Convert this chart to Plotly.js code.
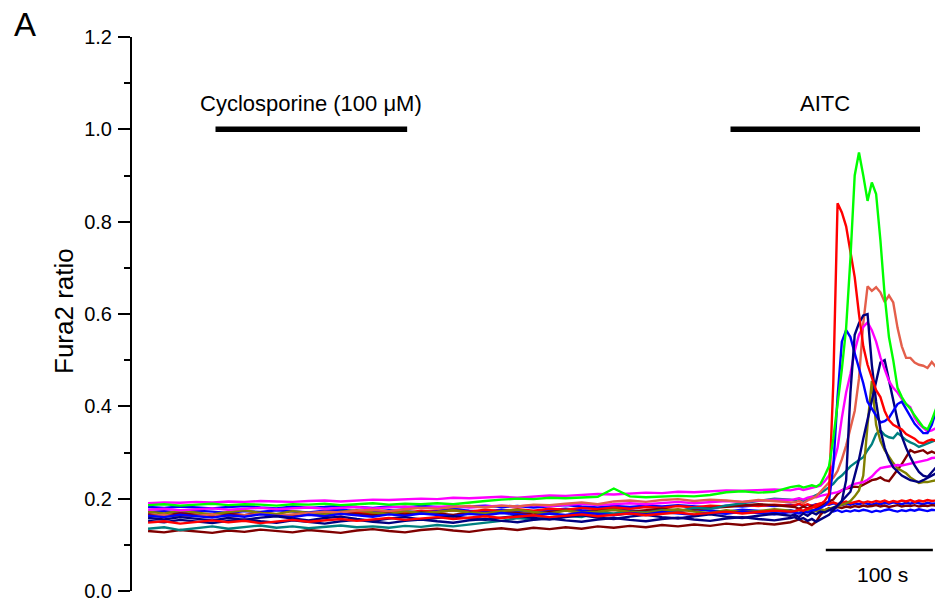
<!DOCTYPE html>
<html>
<head>
<meta charset="utf-8">
<script src="https://cdn.plot.ly/plotly-3.0.1.min.js"></script>
<style>html,body{margin:0;padding:0;background:#fff;}#chart{width:935px;height:603px;}</style>
</head>
<body>
<div id="chart"></div>
<script>
// time in seconds
const timeS = [0,15,30,45,60,75,90,105,120,135,150,165,180,195,210,225,240,255,270,285,300,315,330,345,360,375,390,405,420,435,450,465,480,495,510,525,540,555,570,585,600,
  604,608,612,616,620,624,628,632,636,640,644,648,652,656,660,664,668,672,676,680,684,688,692,696,700,704,708,712,716,720,724,728,732,736];

// Fura2 ratio traces (one per cell)
const blueFlat = [.171,.173,.170,.174,.172,.169,.173,.171,.175,.172,.170,.174,.176,.173,.171,.175,.173,.170,.174,.177,.174,.172,.176,.174,.171,.175,.178,.175,.173,.177,.175,.172,.176,.174,.177,.175,.172,.176,.174,.171,.175,
  .173,.176,.172,.175,.171,.174,.170,.173,.176,.172,.175,.171,.174,.172,.175,.173,.176,.174,.171,.174,.172,.175,.177,.174,.172,.175,.173,.176,.174,.177,.175,.173,.176,.175];
const blue2 = [.182,.180,.183,.181,.179,.182,.184,.181,.179,.183,.180,.182,.185,.182,.180,.183,.181,.184,.182,.180,.183,.185,.182,.184,.181,.183,.186,.183,.181,.184,.182,.185,.183,.186,.184,.181,.185,.183,.186,.184,.187,
  .185,.188,.184,.187,.185,.188,.186,.189,.187,.190,.188,.186,.189,.187,.190,.188,.191,.189,.187,.190,.188,.191,.189,.192,.190,.188,.191,.189,.192,.190,.188,.191,.189,.190];
const red2 = [.166,.163,.168,.165,.162,.167,.164,.169,.166,.163,.168,.170,.166,.171,.168,.172,.169,.174,.171,.175,.172,.176,.173,.177,.174,.178,.176,.180,.177,.181,.178,.182,.180,.184,.181,.185,.183,.186,.184,.187,.185,
  .186,.189,.185,.188,.184,.187,.190,.186,.189,.192,.188,.191,.194,.190,.193,.195,.191,.194,.192,.195,.193,.196,.192,.195,.193,.196,.194,.197,.193,.196,.194,.197,.195,.196];
const maroonB = [.130,.127,.132,.129,.126,.131,.128,.133,.130,.127,.132,.129,.126,.131,.134,.130,.127,.132,.135,.131,.128,.133,.136,.132,.137,.134,.138,.135,.140,.137,.141,.138,.143,.140,.144,.141,.146,.143,.147,.144,.149,
  .152,.155,.150,.148,.143,.150,.165,.175,.180,.178,.182,.180,.183,.181,.184,.182,.185,.183,.184,.186,.183,.185,.182,.184,.186,.183,.185,.184,.186,.183,.185,.184,.186,.185];
const maroonA = [.166,.163,.168,.165,.162,.167,.164,.169,.166,.163,.168,.165,.170,.167,.164,.169,.166,.171,.168,.165,.170,.167,.172,.169,.166,.171,.174,.170,.173,.176,.172,.175,.178,.174,.177,.180,.183,.185,.188,.186,.184,
  .182,.178,.183,.179,.184,.180,.185,.190,.194,.198,.210,.218,.222,.224,.226,.225,.230,.236,.240,.242,.246,.240,.238,.250,.262,.275,.290,.305,.300,.302,.305,.298,.302,.298];
const teal = [.135,.138,.132,.136,.140,.135,.138,.142,.137,.140,.136,.139,.142,.138,.140,.137,.141,.139,.143,.140,.144,.148,.152,.158,.155,.160,.163,.160,.170,.168,.172,.170,.175,.173,.180,.178,.185,.190,.195,.200,.198,
  .196,.200,.195,.199,.203,.207,.212,.218,.225,.232,.243,.250,.260,.270,.277,.284,.290,.305,.318,.340,.348,.338,.333,.331,.342,.335,.327,.322,.318,.312,.316,.320,.324,.327];
const olive = [.172,.168,.174,.170,.166,.171,.175,.169,.167,.173,.170,.166,.172,.175,.170,.167,.173,.169,.171,.175,.170,.168,.173,.176,.171,.168,.174,.170,.172,.176,.171,.169,.174,.177,.172,.169,.175,.171,.173,.177,.174,
  .172,.175,.171,.174,.176,.173,.177,.175,.178,.180,.183,.186,.190,.195,.205,.218,.250,.360,.455,.360,.325,.305,.290,.277,.266,.260,.255,.246,.240,.234,.236,.236,.238,.240];
const magentaB = [.176,.178,.175,.177,.179,.176,.178,.180,.177,.179,.181,.178,.180,.182,.179,.181,.183,.180,.182,.184,.181,.183,.185,.183,.186,.184,.187,.189,.186,.188,.190,.188,.191,.193,.190,.192,.195,.193,.196,.198,.197,
  .199,.201,.198,.202,.204,.203,.206,.208,.210,.212,.214,.218,.222,.228,.232,.234,.236,.241,.248,.258,.266,.268,.270,.271,.273,.272,.274,.275,.277,.279,.281,.284,.288,.289];
const navyB = [.152,.149,.154,.150,.147,.152,.155,.151,.148,.153,.150,.146,.151,.154,.150,.147,.152,.155,.151,.148,.153,.156,.152,.149,.154,.157,.153,.150,.155,.158,.154,.151,.156,.159,.155,.152,.157,.160,.156,.153,.158,
  .160,.155,.158,.152,.156,.150,.155,.160,.165,.175,.185,.195,.205,.215,.250,.285,.330,.370,.410,.455,.495,.500,.455,.410,.370,.335,.310,.290,.272,.258,.250,.247,.258,.268];
const salmon = [.162,.165,.160,.163,.166,.161,.164,.167,.163,.166,.169,.172,.170,.174,.176,.173,.177,.180,.178,.182,.184,.181,.185,.183,.187,.186,.189,.192,.188,.194,.196,.193,.197,.199,.195,.198,.196,.193,.197,.194,.192,
  .192,.195,.190,.196,.200,.205,.215,.225,.235,.245,.260,.285,.315,.350,.390,.460,.580,.660,.650,.658,.647,.626,.640,.625,.570,.530,.505,.505,.495,.490,.488,.483,.496,.485];
const magentaA = [.190,.192,.191,.193,.192,.194,.193,.195,.194,.193,.195,.196,.194,.196,.198,.197,.199,.200,.199,.202,.201,.203,.204,.202,.205,.207,.206,.208,.210,.209,.211,.213,.212,.215,.214,.216,.218,.217,.219,.220,.218,
  .220,.222,.219,.221,.223,.225,.228,.238,.250,.275,.310,.375,.430,.470,.520,.555,.572,.582,.565,.540,.506,.480,.455,.440,.430,.416,.405,.398,.375,.362,.353,.345,.348,.353];
const blueResp = [.163,.160,.165,.162,.159,.164,.161,.166,.163,.160,.165,.162,.167,.164,.161,.166,.163,.168,.165,.162,.167,.164,.169,.166,.163,.168,.165,.170,.167,.164,.169,.166,.171,.168,.165,.170,.167,.172,.169,.166,.171,
  .170,.168,.172,.170,.174,.176,.180,.185,.195,.270,.420,.540,.565,.550,.515,.485,.450,.410,.395,.380,.365,.368,.375,.390,.405,.410,.395,.378,.362,.352,.342,.342,.360,.390];
const navyA = [.158,.155,.160,.156,.153,.158,.154,.159,.162,.157,.153,.158,.161,.156,.152,.157,.160,.155,.158,.162,.157,.154,.159,.163,.158,.155,.160,.164,.159,.156,.161,.165,.160,.157,.162,.166,.161,.158,.163,.167,.163,
  .165,.160,.168,.163,.170,.166,.172,.170,.175,.180,.185,.195,.240,.430,.555,.580,.597,.600,.490,.410,.350,.310,.285,.268,.260,.250,.245,.240,.238,.236,.240,.245,.250,.255];
const red1 = [.148,.151,.146,.150,.153,.149,.152,.147,.151,.154,.150,.153,.156,.152,.155,.158,.154,.157,.160,.156,.159,.162,.158,.161,.164,.160,.163,.166,.162,.165,.168,.164,.167,.170,.166,.169,.172,.168,.171,.174,.172,
  .173,.176,.174,.178,.180,.183,.188,.195,.210,.450,.840,.820,.790,.730,.680,.600,.530,.490,.460,.435,.420,.390,.370,.360,.355,.350,.340,.335,.330,.322,.320,.325,.328,.325];
const green = [.186,.188,.185,.187,.189,.186,.188,.187,.185,.188,.187,.189,.186,.188,.190,.187,.189,.188,.190,.188,.192,.195,.198,.200,.199,.202,.201,.203,.204,.222,.205,.203,.204,.206,.205,.208,.214,.216,.213,.215,.225,
  .226,.228,.224,.227,.229,.226,.232,.250,.270,.330,.400,.480,.570,.720,.900,.950,.900,.845,.885,.860,.760,.640,.550,.500,.440,.420,.405,.395,.380,.368,.355,.350,.370,.395];

// treatment periods and scale bar (seconds)
const cycloPeriod = [63, 242];
const aitcPeriod = [544, 721];
const scaleBar = [633, 733];
const yTicks = [0, 0.2, 0.4, 0.6, 0.8, 1.0, 1.2];

const series = [
  [blueFlat, '#0000FF'], [blue2, '#0000FF'], [red2, '#FF0000'], [maroonB, '#800000'],
  [maroonA, '#800000'], [teal, '#008080'], [olive, '#808000'], [magentaB, '#FF00FF'],
  [navyB, '#000080'], [salmon, '#E45F4B'], [magentaA, '#FF00FF'], [blueResp, '#0000FF'],
  [navyA, '#000080'], [red1, '#FF0000'], [green, '#00FF00']
];

const traces = series.map(([vals, col]) => ({
  type: 'scatter', mode: 'lines', x: timeS, y: vals,
  line: {color: col, width: 2.4}, hoverinfo: 'skip'
}));

const FONT = 'Liberation Sans, Arial, sans-serif';

const layout = {
  width: 935, height: 603,
  margin: {l: 132, r: 0, t: 37, b: 12, pad: 0},
  paper_bgcolor: '#fff', plot_bgcolor: '#fff',
  showlegend: false,
  font: {family: FONT, size: 20, color: '#000'},
  xaxis: {visible: false, range: [-15, 735], fixedrange: true},
  yaxis: {
    range: [0, 1.2], tickvals: yTicks, tickformat: '.1f',
    ticks: 'outside', ticklen: 12, tickwidth: 2, tickcolor: '#000',
    ticklabelstandoff: 2,
    showline: true, linewidth: 2, linecolor: '#000',
    showgrid: false, zeroline: false,
    minor: {ticks: 'outside', ticklen: 6, tickwidth: 2, dtick: 0.1, tickcolor: '#000'},
    tickfont: {family: FONT, size: 20, color: '#000'}
  },
  shapes: [
    {type: 'line', xref: 'x', yref: 'y', x0: cycloPeriod[0], x1: cycloPeriod[1], y0: 1.0, y1: 1.0, line: {color: '#000', width: 5.5}},
    {type: 'line', xref: 'x', yref: 'y', x0: aitcPeriod[0], x1: aitcPeriod[1], y0: 1.0, y1: 1.0, line: {color: '#000', width: 5.5}},
    {type: 'line', xref: 'x', yref: 'y', x0: scaleBar[0], x1: scaleBar[1], y0: 0.089, y1: 0.089, line: {color: '#000', width: 2.5}}
  ],
  annotations: [
    {text: 'Cyclosporine (100 μM)', xref: 'x', yref: 'y', x: (cycloPeriod[0] + cycloPeriod[1]) / 2, y: 1.056, showarrow: false, xanchor: 'center', yanchor: 'middle', font: {family: FONT, size: 22, color: '#000'}},
    {text: 'AITC', xref: 'x', yref: 'y', x: (aitcPeriod[0] + aitcPeriod[1]) / 2, y: 1.056, showarrow: false, xanchor: 'center', yanchor: 'middle', font: {family: FONT, size: 22, color: '#000'}},
    {text: '100 s', xref: 'x', yref: 'y', x: (scaleBar[0] + scaleBar[1]) / 2 + 3, y: 0.035, showarrow: false, xanchor: 'center', yanchor: 'middle', font: {family: FONT, size: 21, color: '#000'}},
    {text: 'Fura2 ratio', xref: 'paper', yref: 'paper', x: -0.085, y: 0.505, textangle: -90, showarrow: false, xanchor: 'center', yanchor: 'middle', font: {family: FONT, size: 26, color: '#000'}},
    {text: 'A', xref: 'paper', yref: 'paper', x: -0.1333, y: 1.0217, showarrow: false, xanchor: 'center', yanchor: 'middle', font: {family: FONT, size: 33, color: '#000'}}
  ]
};

Plotly.newPlot('chart', traces, layout, {displayModeBar: false, staticPlot: true});
</script>
</body>
</html>
